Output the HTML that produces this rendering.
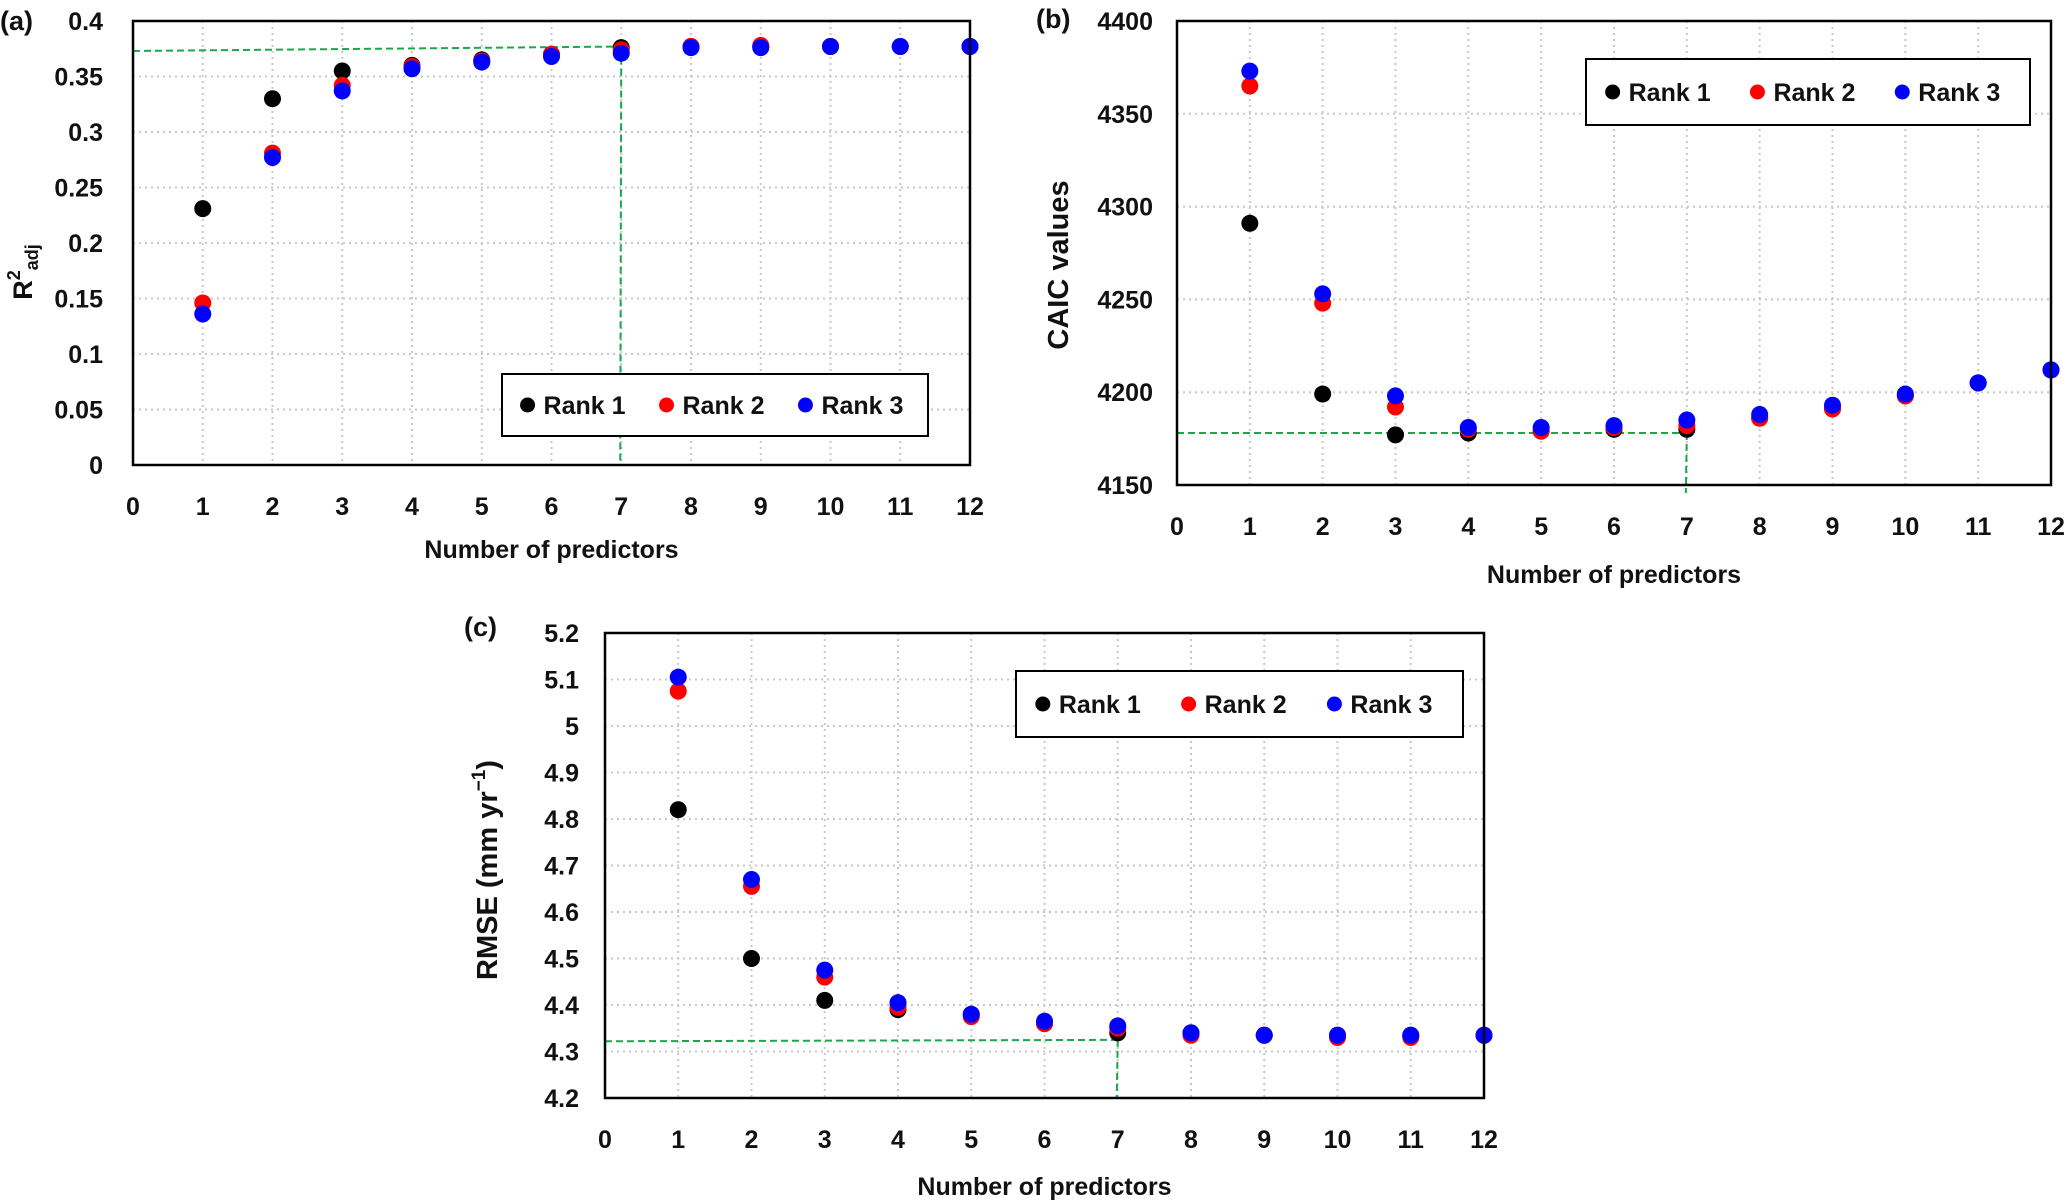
<!DOCTYPE html>
<html><head><meta charset="utf-8"><style>
html,body{margin:0;padding:0;background:#fff;}
svg{display:block;font-family:"Liberation Sans",sans-serif;}
</style></head><body>
<svg id="fig" width="2067" height="1203" viewBox="0 0 2067 1203" xmlns="http://www.w3.org/2000/svg"></svg>
<script>
const xTicks=[0,1,2,3,4,5,6,7,8,9,10,11,12];
const preds=[1,2,3,4,5,6,7,8,9,10,11,12];
const aR1=[0.231,0.330,0.355,0.360,0.365,0.370,0.376,0.377,0.377,0.377,0.377,0.377];
const aR2=[0.146,0.281,0.342,0.359,0.364,0.370,0.374,0.377,0.378,0.377,0.377,0.377];
const aR3=[0.136,0.277,0.337,0.357,0.363,0.368,0.371,0.376,0.376,0.377,0.377,0.377];
const aTicks=["0","0.05","0.1","0.15","0.2","0.25","0.3","0.35","0.4"];
const bR1=[4291,4199,4177,4178,4179,4180,4180,4186,4191,4198,4205,4212];
const bR2=[4365,4248,4192,4180,4179,4181,4182,4186,4191,4198,4205,4212];
const bR3=[4373,4253,4198,4181,4181,4182,4185,4188,4193,4199,4205,4212];
const bTicks=["4150","4200","4250","4300","4350","4400"];
const cR1=[4.82,4.50,4.41,4.39,4.38,4.36,4.34,4.34,4.335,4.335,4.335,4.335];
const cR2=[5.075,4.655,4.46,4.395,4.375,4.36,4.35,4.335,4.335,4.33,4.33,4.335];
const cR3=[5.105,4.67,4.475,4.405,4.38,4.365,4.355,4.34,4.335,4.335,4.335,4.335];
const cTicks=["4.2","4.3","4.4","4.5","4.6","4.7","4.8","4.9","5","5.1","5.2"];
const aGuide=[0.373,0.377];
const bGuide=[4178,4178];
const cGuide=[4.322,4.325];

const NS="http://www.w3.org/2000/svg";
const svg=document.getElementById('fig');
function mk(tag,attrs,parent,text){const e=document.createElementNS(NS,tag);for(const k in attrs)e.setAttribute(k,attrs[k]);if(text!==undefined)e.textContent=text;(parent||svg).appendChild(e);return e;}

function panel(cfg){
  const g=mk('g',{});
  
  
  const L=cfg.L,R=cfg.R,T=cfg.T,B=cfg.B;
  const ymin=parseFloat(cfg.ticks[0]),ymax=parseFloat(cfg.ticks[cfg.ticks.length-1]);
  const xs=v=>L+(R-L)*v/12;
  const ys=v=>B-(B-T)*(v-ymin)/(ymax-ymin);
  // grid
  xTicks.forEach(t=>{ if(t>0&&t<12){const l=mk('line',{x1:xs(t),x2:xs(t),y1:T,y2:B,stroke:'#c8c8c8','stroke-width':2,'stroke-dasharray':'2 4'},g);
    }});
  cfg.ticks.forEach(t=>{const v=parseFloat(t);if(v>ymin&&v<ymax){const l=mk('line',{x1:L,x2:R,y1:ys(v),y2:ys(v),stroke:'#c8c8c8','stroke-width':2,'stroke-dasharray':'2 4'},g);
    }});
  // ticks labels
  xTicks.forEach(t=>{const tx=mk('text',{x:xs(t),y:B+cfg.xlo,'text-anchor':'middle','font-size':25,'font-weight':'bold',fill:'#111'},g,String(t));
    });
  cfg.ticks.forEach(t=>{const tx=mk('text',{x:L-cfg.ylo,y:ys(parseFloat(t))+9,'text-anchor':'end','font-size':25,'font-weight':'bold',fill:'#111'},g,t);
    });
  // guides
  const gx=xs(7),gy0=ys(cfg.guide[0]),gy1=ys(cfg.guide[1]);
  const h=mk('line',{x1:L,y1:gy0,x2:gx,y2:gy1,stroke:'#1aa84a','stroke-width':2,'stroke-dasharray':'7 4'},g);
  
  const v=mk('line',{x1:gx,y1:gy1,x2:gx-1,y2:B+(cfg.vext||0),stroke:'#1aa84a','stroke-width':2,'stroke-dasharray':'7 4'},g);
  
  // series
  const series=[[cfg.r1,'#000','rank-1'],[cfg.r2,'#ff0000','rank-2'],[cfg.r3,'#0000ff','rank-3']];
  series.forEach(s=>{s[0].forEach((val,i)=>{const c=mk('circle',{cx:xs(preds[i]),cy:ys(val),r:8.5,fill:s[1]},g);
    });});
  // frame
  const f=mk('rect',{x:L,y:T,width:R-L,height:B-T,fill:'none',stroke:'#000','stroke-width':2.5},g);
  
  // legend
  const lg=mk('g',{},g);
  const [lx,ly,lw,lh]=cfg.leg;
  mk('rect',{x:lx,y:ly,width:lw,height:lh,fill:'#fff',stroke:'#000','stroke-width':2},lg);
  const cy=ly+lh/2;
  const step=lw/3.02;
  series.forEach((s,i)=>{const ex=lx+lw*0.06+i*step*0.985;
    const e=mk('g',{},lg);
    mk('circle',{cx:ex,cy:cy,r:7.5,fill:s[1]},e);
    mk('text',{x:ex+16,y:cy+9,'font-size':25,'font-weight':'bold',fill:'#111'},e,'Rank '+(i+1));});
  // x title
  const xt=mk('text',{x:(L+R)/2,y:cfg.xty,'text-anchor':'middle','font-size':25,'font-weight':'bold',fill:'#111'},g,'Number of predictors');
  
  // panel label
  const pl=mk('text',{x:cfg.lab[0],y:cfg.lab[1],'font-size':27,'font-weight':'bold',fill:'#111'},g,cfg.labt);
  
  return g;
}

const ga=panel({id:'a',L:133,R:970,T:21,B:465,ticks:aTicks,r1:aR1,r2:aR2,r3:aR3,guide:aGuide,leg:[502,374,426,62],xlo:50,ylo:30,xty:558,lab:[0,30],labt:'(a)'});
const gb=panel({id:'b',L:1177,R:2051,T:21,B:485,ticks:bTicks,r1:bR1,r2:bR2,r3:bR3,guide:bGuide,leg:[1586,59,444,66],xlo:50,ylo:24,xty:583,lab:[1036,28],labt:'(b)',vext:8});
const gc=panel({id:'c',L:605,R:1484,T:633,B:1098,ticks:cTicks,r1:cR1,r2:cR2,r3:cR3,guide:cGuide,leg:[1016,671,447,66],xlo:50,ylo:26,xty:1195,lab:[464,636],labt:'(c)'});

// y titles
let t=mk('text',{transform:'translate(32,272) rotate(-90)','text-anchor':'middle','font-size':27,'font-weight':'bold',fill:'#111'},ga);

mk('tspan',{},t,'R');mk('tspan',{dy:-12,'font-size':18},t,'2');mk('tspan',{dy:18,'font-size':18},t,'adj');
t=mk('text',{transform:'translate(1068,265) rotate(-90)','text-anchor':'middle','font-size':29,'font-weight':'bold',fill:'#111'},gb,'CAIC values');

t=mk('text',{transform:'translate(497,870) rotate(-90)','text-anchor':'middle','font-size':29,'font-weight':'bold',fill:'#111'},gc);

mk('tspan',{},t,'RMSE (mm  yr');mk('tspan',{dy:-12,'font-size':19},t,'−1');mk('tspan',{dy:12},t,')');
</script>
</body></html>
